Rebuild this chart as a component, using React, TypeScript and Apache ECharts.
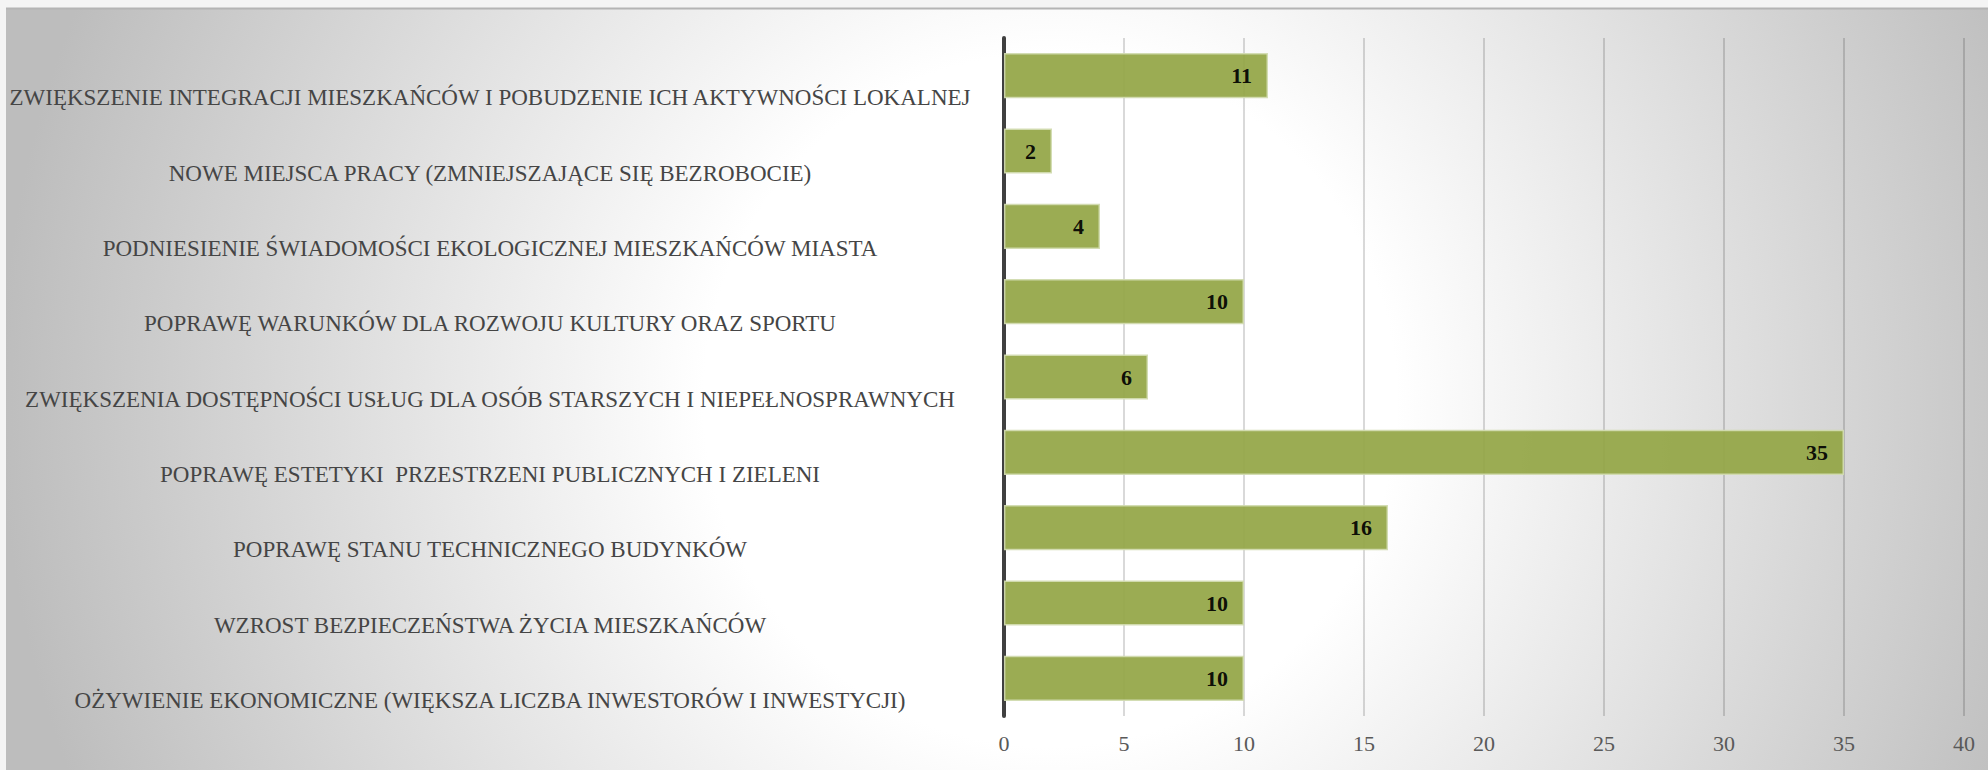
import React, { useEffect, useRef } from "react";
import * as echarts from "echarts";

const categories: string[] = [
  "ZWIĘKSZENIE INTEGRACJI MIESZKAŃCÓW I POBUDZENIE ICH AKTYWNOŚCI LOKALNEJ",
  "NOWE MIEJSCA PRACY (ZMNIEJSZAJĄCE SIĘ BEZROBOCIE)",
  "PODNIESIENIE ŚWIADOMOŚCI EKOLOGICZNEJ MIESZKAŃCÓW MIASTA",
  "POPRAWĘ WARUNKÓW DLA ROZWOJU KULTURY ORAZ SPORTU",
  "ZWIĘKSZENIA DOSTĘPNOŚCI USŁUG DLA OSÓB STARSZYCH I NIEPEŁNOSPRAWNYCH",
  "POPRAWĘ ESTETYKI  PRZESTRZENI PUBLICZNYCH I ZIELENI",
  "POPRAWĘ STANU TECHNICZNEGO BUDYNKÓW",
  "WZROST BEZPIECZEŃSTWA ŻYCIA MIESZKAŃCÓW",
  "OŻYWIENIE EKONOMICZNE (WIĘKSZA LICZBA INWESTORÓW I INWESTYCJI)",
];

const values: number[] = [11, 2, 4, 10, 6, 35, 16, 10, 10];

const axisMin = 0;
const axisMax = 40;
const axisStep = 5;

const W = 1988;
const H = 770;
const SERIF = "'Liberation Serif', 'Times New Roman', serif";

export default function App() {
  const ref = useRef<HTMLDivElement>(null);

  useEffect(() => {
    if (!ref.current) return;
    const chart = echarts.init(ref.current, undefined, { renderer: "svg" });
    chart.setOption({
      animation: false,
      backgroundColor: "#f4f4f4",
      graphic: {
        elements: [
          {
            type: "rect",
            z: -100,
            silent: true,
            shape: { x: 6, y: 9, width: W - 6, height: H - 9 },
            style: {
              fill: new echarts.graphic.RadialGradient(
                1050,
                400,
                1050,
                [
                  { offset: 0, color: "#ffffff" },
                  { offset: 0.33, color: "#ffffff" },
                  { offset: 1, color: "#bdbdbd" },
                ],
                true
              ),
            },
          },
          {
            type: "line",
            z: -99,
            silent: true,
            shape: { x1: 6, y1: 8.5, x2: W, y2: 8.5 },
            style: { stroke: "#b4b4b4", lineWidth: 2 },
          },
        ],
      },
      grid: {
        left: 1004,
        top: 38,
        right: W - 1964,
        bottom: H - 716,
        containLabel: false,
      },
      xAxis: {
        type: "value",
        min: axisMin,
        max: axisMax,
        interval: axisStep,
        axisLine: { show: false },
        axisTick: { show: false },
        splitLine: {
          show: true,
          lineStyle: { color: "rgba(0,0,0,0.2)", width: 1.5 },
        },
        axisLabel: {
          fontFamily: SERIF,
          fontSize: 22,
          color: "#595959",
          margin: 16,
        },
      },
      yAxis: {
        type: "category",
        inverse: true,
        data: categories,
        axisLine: { show: true, lineStyle: { color: "#404040", width: 4 } },
        axisTick: { show: false },
        splitLine: { show: false },
        axisLabel: {
          fontFamily: SERIF,
          fontSize: 23,
          color: "#454545",
          align: "center",
          verticalAlign: "top",
          lineHeight: 22,
          padding: [11, 0, 0, 0],
          margin: 514,
        },
      },
      series: [
        {
          type: "bar",
          data: values,
          barCategoryGap: "40%",
          itemStyle: {
            color: "#93a646",
            opacity: 0.93,
            borderColor: "#d2dbb0",
            borderWidth: 1.5,
          },
          label: {
            show: true,
            position: "insideRight",
            distance: 16,
            fontFamily: SERIF,
            fontSize: 22,
            fontWeight: "bold",
            color: "#000000",
          },
        },
      ],
    });
    return () => chart.dispose();
  }, []);

  return (
    <div
      ref={ref}
      style={{ position: "absolute", left: 0, top: 0, width: W, height: H }}
    />
  );
}
